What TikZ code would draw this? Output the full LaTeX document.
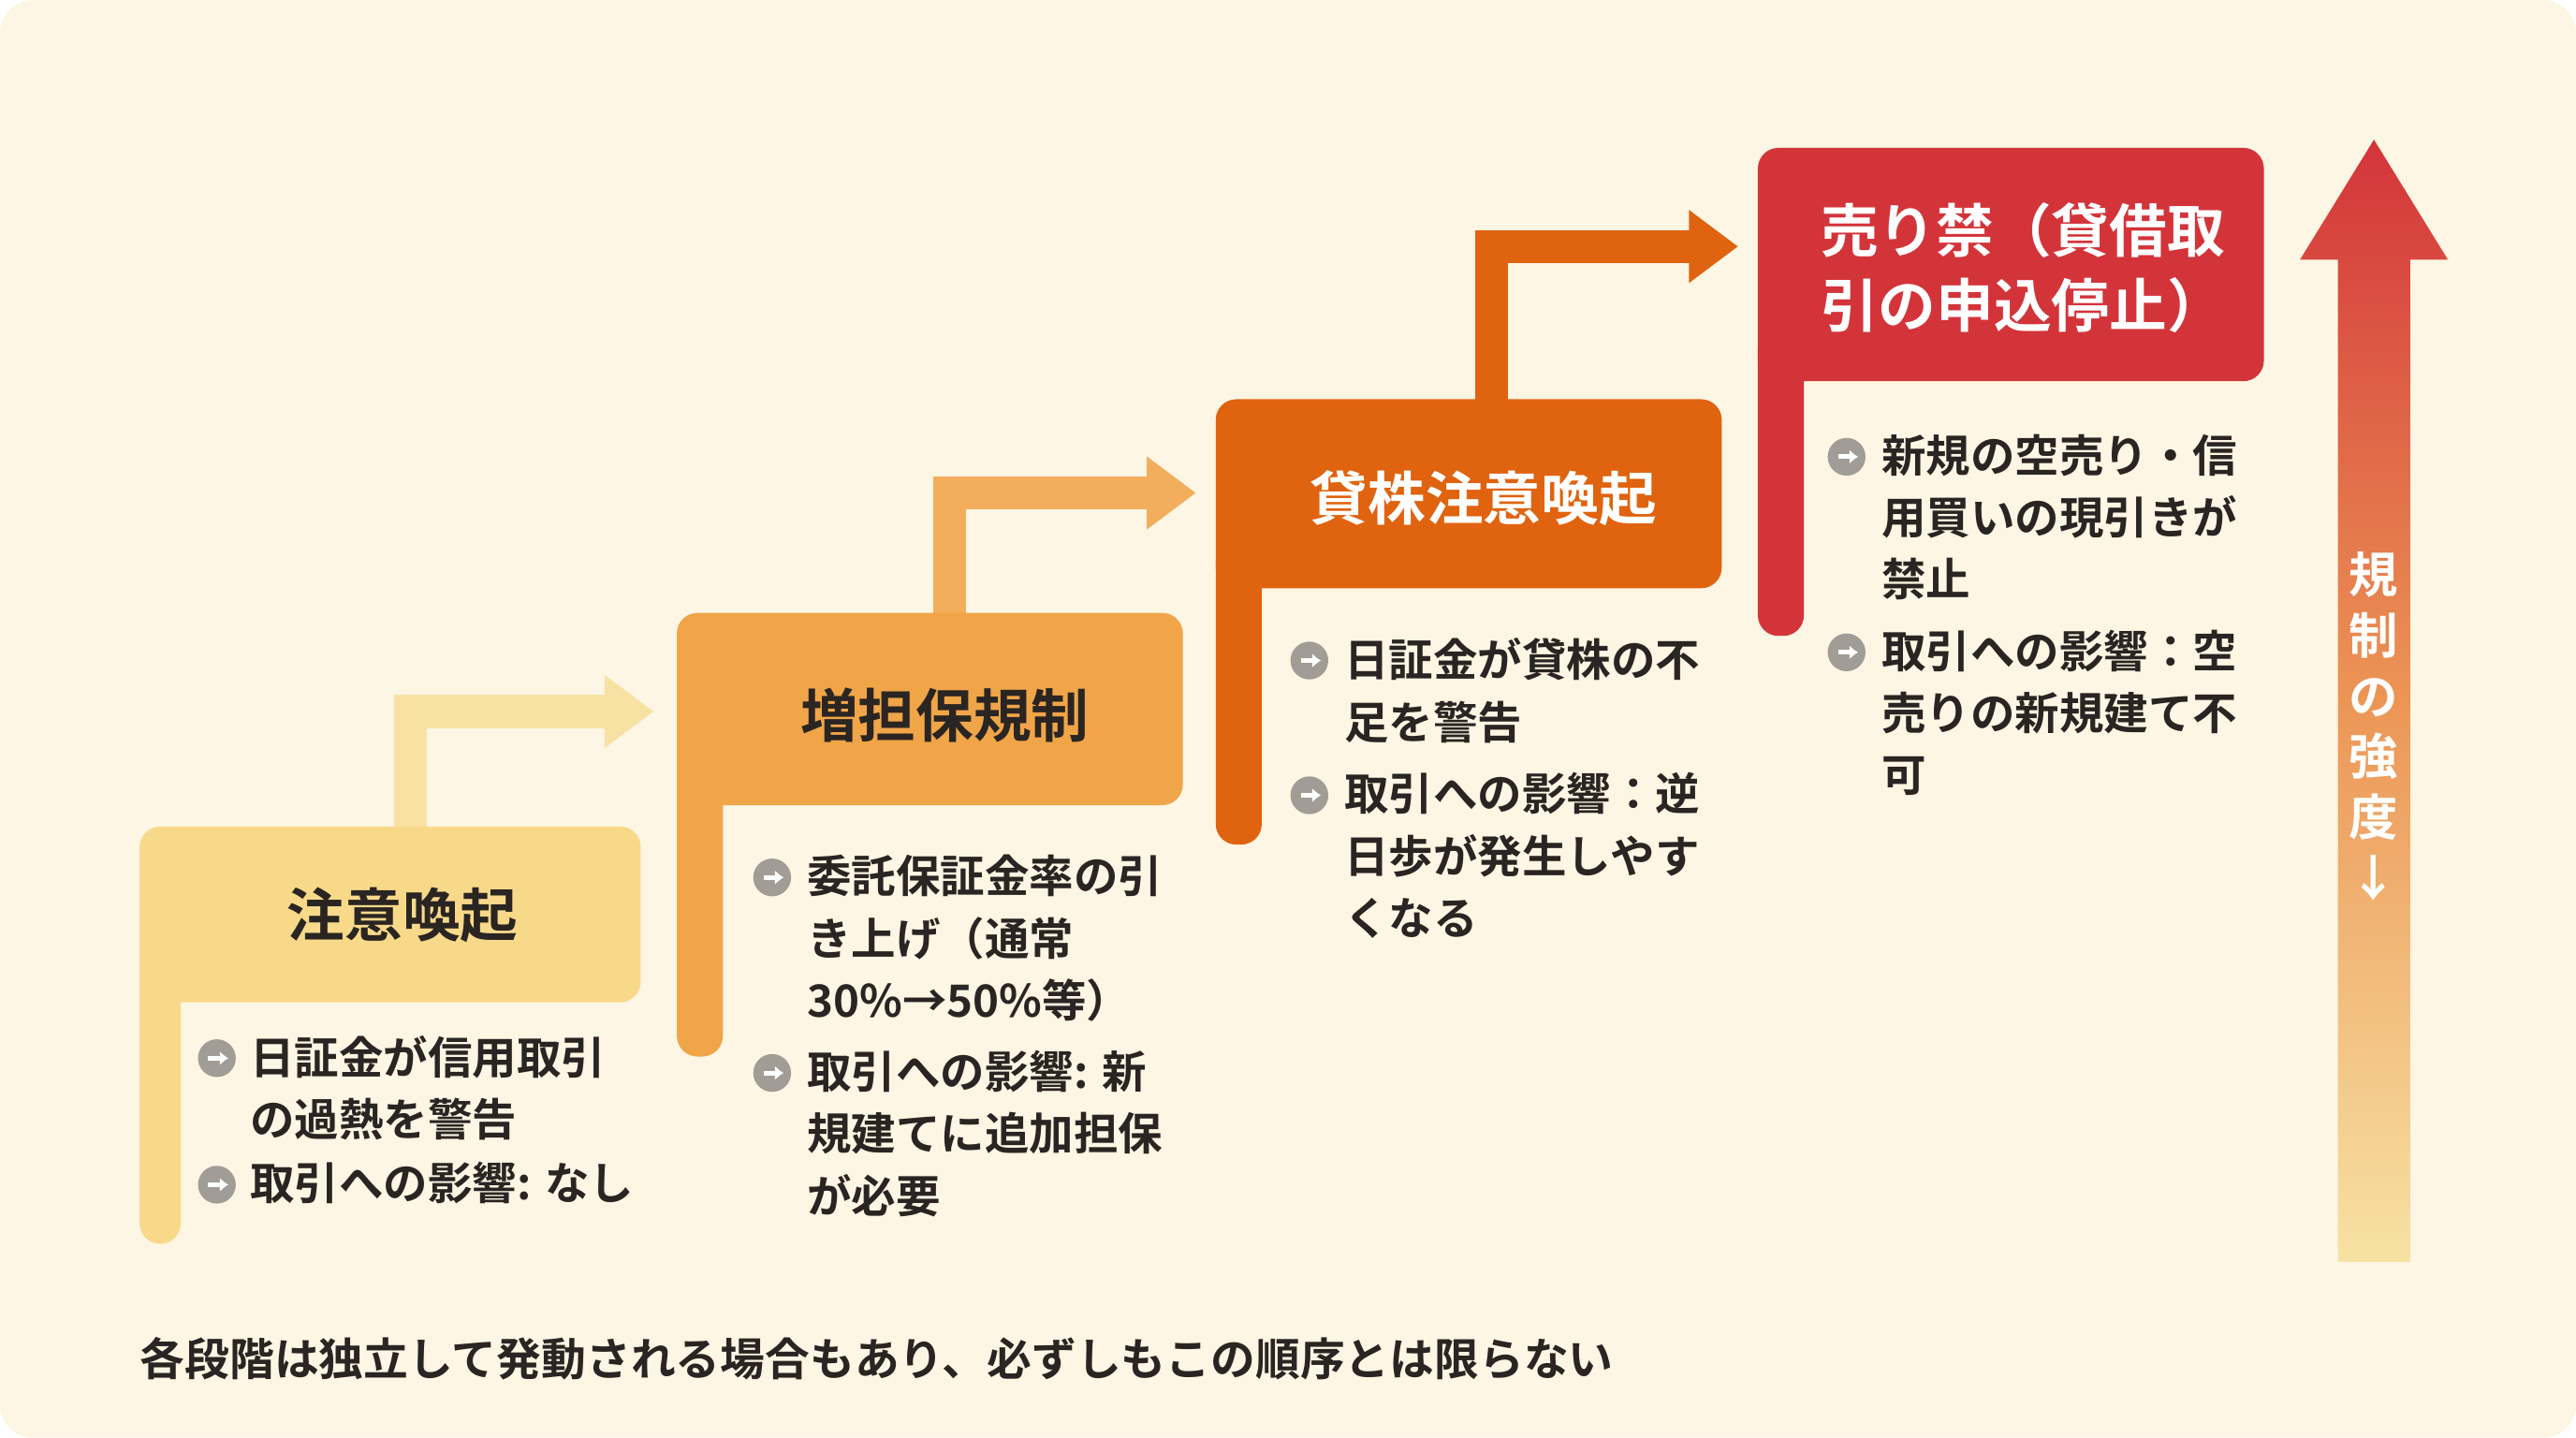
\documentclass[tikz,border=0pt]{standalone}
\usepackage{fontspec}
\setmainfont{Noto Sans CJK JP}[BoldFont={* Bold}]
\usetikzlibrary{arrows.meta}
\definecolor{bg}{HTML}{FDF6E4}
\definecolor{cA}{HTML}{F8D98A}
\definecolor{cAa}{HTML}{F7E2A4}
\definecolor{cB}{HTML}{F0A548}
\definecolor{cBa}{HTML}{F2AE5C}
\definecolor{cC}{HTML}{E0630F}
\definecolor{cD}{HTML}{D3343A}
\definecolor{ico}{HTML}{A19C95}
\definecolor{txt}{HTML}{2A2522}
\tikzset{
  head/.style={font=\fontsize{20}{24}\selectfont\bfseries},
  body/.style={anchor=north west, inner sep=0pt, align=left, text=txt,
    font=\fontsize{15.4}{21.5}\selectfont\bfseries},
  bul/.style={circle, fill=ico, minimum size=0.46cm, inner sep=0pt},
  link/.style={line width=20*0.02cm, line cap=butt, line join=miter}
}
\newcommand{\bulico}[2]{%
  \node[bul] (#1) at #2 {};
  \draw[white, line width=1.6pt, -{Latex[length=3pt,width=5pt]}] ([xshift=-3pt]#1.center) -- ([xshift=4pt]#1.center);}
\begin{document}
\begin{tikzpicture}[x=0.02cm, y=-0.02cm]
        \fill[bg, rounded corners=0.4cm] (0,0) rectangle (1568,875);
        \useasboundingbox (0,0) rectangle (1568,875);

        % connecting arrows
        \draw[link, cAa, -{Triangle[length=0.6cm, width=0.85cm]}] (250,505) -- (250,433) -- (398,433);
        \draw[link, cBa, -{Triangle[length=0.6cm, width=0.85cm]}] (578,375) -- (578,300) -- (728,300);
        \draw[link, cC, -{Triangle[length=0.6cm, width=0.85cm]}] (908,245) -- (908,150) -- (1058,150);

        % steps
        \fill[cA, rounded corners=0.25cm] (85,503) rectangle (390,610);
        \fill[cA, rounded corners=0.25cm] (85,580) rectangle (110,757);
        \fill[cA] (85,600) rectangle (110,620);
        \node[head, text=txt] (s1) at (245,557) {注意喚起};

        \fill[cB, rounded corners=0.25cm] (412,373) rectangle (720,490);
        \fill[cB, rounded corners=0.25cm] (412,460) rectangle (440,643);
        \fill[cB] (412,480) rectangle (440,500);
        \node[head, text=txt] (s2) at (575,435) {増担保規制};

        \fill[cC, rounded corners=0.25cm] (740,243) rectangle (1048,358);
        \fill[cC, rounded corners=0.25cm] (740,330) rectangle (768,514);
        \fill[cC] (740,348) rectangle (768,368);
        \node[head, text=white] (s3) at (903,303) {貸株注意喚起};

        \fill[cD, rounded corners=0.25cm] (1070,90) rectangle (1378,232);
        \fill[cD, rounded corners=0.25cm] (1070,200) rectangle (1098,387);
        \fill[cD] (1070,222) rectangle (1098,242);
        \node[head, text=white, align=left, anchor=west, font=\fontsize{20}{26}\selectfont\bfseries] (s4) at (1102,163) {売り禁（貸借取\\引の申込停止）};

        % bullets
        \bulico{b1}{(132,644)}
        \node[body] (t1) at (152,630) {日証金が信用取引\\の過熱を警告};
        \bulico{b2}{(132,721)}
        \node[body] (t2) at (152,707) {取引への影響: なし};

        \bulico{b3}{(470,534)}
        \node[body] (t3) at (491,520) {委託保証金率の引\\き上げ（通常\\30\%→50\%等）};
        \bulico{b4}{(470,653)}
        \node[body] (t4) at (491,639) {取引への影響: 新\\規建てに追加担保\\が必要};

        \bulico{b5}{(797,402)}
        \node[body] (t5) at (818,388) {日証金が貸株の不\\足を警告};
        \bulico{b6}{(797,484)}
        \node[body] (t6) at (818,470) {取引への影響：逆\\日歩が発生しやす\\くなる};

        \bulico{b7}{(1124,278)}
        \node[body] (t7) at (1145,264) {新規の空売り・信\\用買いの現引きが\\禁止};
        \bulico{b8}{(1124,397)}
        \node[body] (t8) at (1145,383) {取引への影響：空\\売りの新規建て不\\可};

        % intensity arrow
        \shade[top color=cD, bottom color=cAa, middle color=cBa!80!cD]
          (1423,768) -- (1423,158) -- (1400,158) -- (1445,85) -- (1490,158) -- (1467,158) -- (1467,768) -- cycle;
        \node[text=white, align=center, font=\fontsize{17}{21}\selectfont\bfseries] (v) at (1445,442) {規\\制\\の\\強\\度\\↓};

        \node[anchor=west, inner sep=0pt, text=txt, font=\fontsize{15.5}{19}\selectfont\bfseries] (note) at (85,827)
          {各段階は独立して発動される場合もあり、必ずしもこの順序とは限らない};
\end{tikzpicture}
\end{document}
